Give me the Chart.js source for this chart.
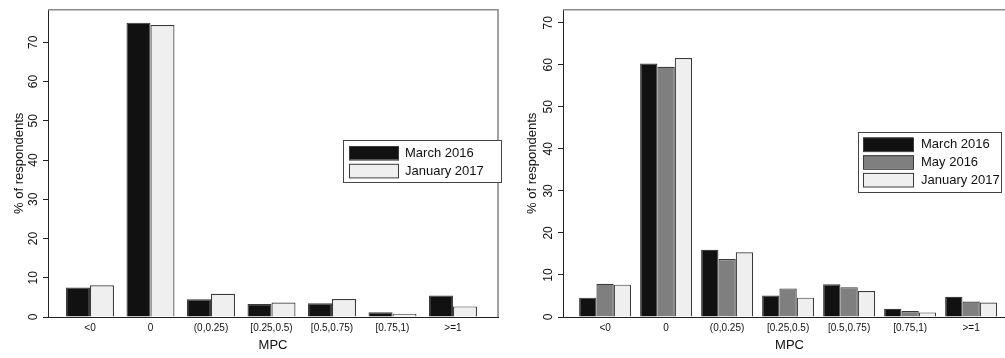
<!DOCTYPE html>
<html>
<head>
    <title>MPC</title>
    <script src="https://cdn.jsdelivr.net/npm/chart.js"></script>
    <style>
        html, body {
            margin: 0;
            padding: 0;
            background: #fff;
            overflow: hidden;
        }
        body {
            position: relative;
            width: 1005px;
            height: 358px;
        }
        #leftBox {
            position: absolute;
            left: 0;
            top: 0;
            width: 506px;
            height: 358px;
        }
        #rightBox {
            position: absolute;
            left: 500px;
            top: 0;
            width: 520px;
            height: 358px;
        }
    </style>
</head>
<body>
    <div id="leftBox"><canvas id="leftChart"></canvas></div>
    <div id="rightBox"><canvas id="rightChart"></canvas></div>

    <script>
        const categories = ['<0', '0', '(0,0.25)', '[0.25,0.5)', '[0.5,0.75)', '[0.75,1)', '>=1'];

        // left panel
        const leftMarch2016 = [7.5, 75.0, 4.5, 3.3, 3.5, 1.2, 5.5];
        const leftJanuary2017 = [8.1, 74.4, 5.9, 3.7, 4.6, 0.85, 2.7];

        // right panel
        const rightMarch2016 = [4.6, 60.3, 16.0, 5.1, 7.8, 1.95, 4.8];
        const rightMay2016 = [7.9, 59.5, 13.8, 6.8, 7.1, 1.4, 3.7];
        const rightJanuary2017 = [7.7, 61.6, 15.4, 4.6, 6.2, 1.1, 3.45];

        const yTickValues = [0, 10, 20, 30, 40, 50, 60, 70];

        const BLACK = '#111111';
        const GREY = '#7f7f7f';
        const LIGHT = '#efefef';

        Chart.defaults.font.family = '"Liberation Sans", Arial, Helvetica, sans-serif';
        Chart.defaults.color = '#111';

        function toPoints(values) {
            return values.map((v, i) => ({ x: i, y: v }));
        }

        // top and right side of the plot box
        const frameBox = {
            id: 'frameBox',
            beforeDatasetsDraw(chart) {
                const a = chart.chartArea;
                const ctx = chart.ctx;
                ctx.save();
                ctx.strokeStyle = '#8a8a8a';
                ctx.lineWidth = 1.6;
                ctx.beginPath();
                ctx.moveTo(a.left, a.top);
                ctx.lineTo(a.right, a.top);
                ctx.lineTo(a.right, a.bottom);
                ctx.stroke();
                ctx.restore();
            }
        };

        // legend box drawn inside the plot
        const boxLegend = {
            id: 'boxLegend',
            afterDraw(chart, args, o) {
                const ctx = chart.ctx;
                ctx.save();
                ctx.fillStyle = '#fff';
                ctx.fillRect(o.x, o.y, o.w, o.h);
                ctx.strokeStyle = '#444';
                ctx.lineWidth = 1;
                ctx.strokeRect(o.x + 0.5, o.y + 0.5, o.w, o.h);
                ctx.font = '13px "Liberation Sans", Arial, Helvetica, sans-serif';
                ctx.textBaseline = 'middle';
                chart.data.datasets.forEach((ds, i) => {
                    const y = o.y + o.top + i * o.pitch;
                    ctx.fillStyle = ds.backgroundColor;
                    ctx.fillRect(o.x + o.sx, y, o.sw, o.sh);
                    ctx.strokeStyle = '#3a3a3a';
                    ctx.strokeRect(o.x + o.sx + 0.5, y + 0.5, o.sw, o.sh);
                    ctx.fillStyle = '#111';
                    ctx.fillText(ds.label, o.x + o.tx, y + o.sh / 2 + 0.5);
                });
                ctx.restore();
            }
        };

        function makeChart(id, datasets, cfg) {
            const ctx = document.getElementById(id).getContext('2d');
            return new Chart(ctx, {
                type: 'bar',
                data: { datasets: datasets },
                options: {
                    responsive: true,
                    maintainAspectRatio: false,
                    animation: false,
                    devicePixelRatio: 1,
                    layout: { padding: cfg.padding },
                    datasets: {
                        bar: {
                            barPercentage: 1,
                            categoryPercentage: cfg.catPct,
                            borderColor: '#3a3a3a',
                            borderWidth: 1.2
                        }
                    },
                    plugins: {
                        legend: { display: false },
                        tooltip: { enabled: false },
                        boxLegend: cfg.legend
                    },
                    scales: {
                        x: {
                            type: 'linear',
                            offset: false,
                            min: cfg.xMin,
                            max: cfg.xMax,
                            afterBuildTicks(axis) {
                                axis.ticks = categories.map((c, i) => ({ value: i }));
                            },
                            afterFit(axis) {
                                axis.height = 41;
                            },
                            grid: { display: false, drawTicks: false, offset: false },
                            border: { display: true, color: '#222', width: 1 },
                            ticks: {
                                autoSkip: false,
                                maxRotation: 0,
                                padding: 5,
                                font: { size: 10 },
                                callback: (v) => categories[v]
                            },
                            title: {
                                display: true,
                                text: 'MPC',
                                font: { size: 13 },
                                padding: { top: 0, bottom: 5 }
                            }
                        },
                        y: {
                            min: 0,
                            max: cfg.yMax,
                            afterBuildTicks(axis) {
                                axis.ticks = yTickValues.map(v => ({ value: v }));
                            },
                            afterFit(axis) {
                                axis.width = cfg.yWidth;
                            },
                            grid: {
                                display: true,
                                drawOnChartArea: false,
                                drawTicks: true,
                                tickLength: 5,
                                color: '#222'
                            },
                            border: { display: true, color: '#222', width: 1 },
                            ticks: {
                                minRotation: 90,
                                maxRotation: 90,
                                crossAlign: 'center',
                                padding: 2.5,
                                font: { size: 12 }
                            },
                            title: {
                                display: true,
                                text: '% of respondents',
                                font: { size: 13 },
                                padding: { top: cfg.titlePad, bottom: 0 }
                            }
                        }
                    }
                },
                plugins: [frameBox, boxLegend]
            });
        }

        makeChart('leftChart', [
            { label: 'March 2016', data: toPoints(leftMarch2016), backgroundColor: BLACK },
            { label: 'January 2017', data: toPoints(leftJanuary2017), backgroundColor: LIGHT }
        ], {
            padding: { top: 6, right: 8, bottom: 0, left: 0 },
            yWidth: 48,
            yMax: 78.3,
            xMin: -0.694,
            xMax: 6.744,
            catPct: 0.793,
            titlePad: 12,
            legend: { x: 343, y: 140, w: 158, h: 42, top: 6, pitch: 17.8, sx: 6, sw: 49, sh: 13.6, tx: 62 }
        });

        makeChart('rightChart', [
            { label: 'March 2016', data: toPoints(rightMarch2016), backgroundColor: BLACK },
            { label: 'May 2016', data: toPoints(rightMay2016), backgroundColor: GREY },
            { label: 'January 2017', data: toPoints(rightJanuary2017), backgroundColor: LIGHT }
        ], {
            padding: { top: 6, right: 4, bottom: 0, left: 0 },
            yWidth: 63,
            yMax: 73.1,
            xMin: -0.69,
            xMax: 6.736,
            catPct: 0.852,
            titlePad: 25,
            legend: { x: 358, y: 132, w: 143, h: 60, top: 5.5, pitch: 17.7, sx: 5, sw: 50, sh: 13.6, tx: 63 }
        });
    </script>
</body>
</html>
